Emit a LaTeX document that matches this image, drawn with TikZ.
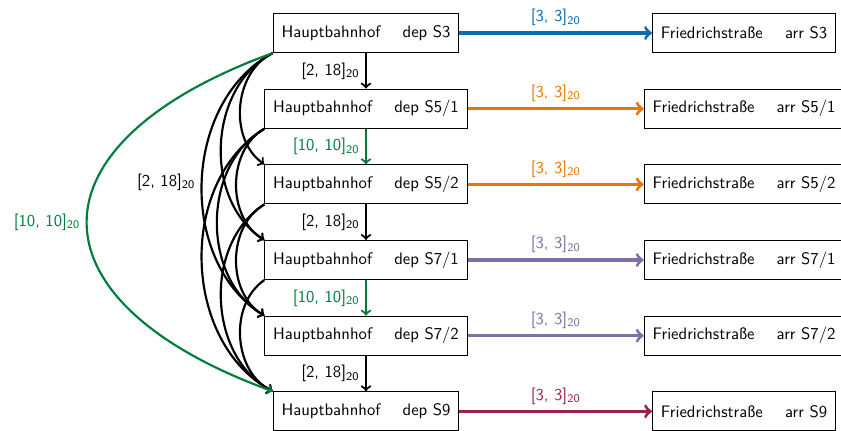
\documentclass[tikz,border=0pt]{standalone}
\usepackage{amsmath}
\usepackage{fontspec}
\renewcommand{\familydefault}{\sfdefault}

\definecolor{sbahnblue}{RGB}{10,108,178}
\definecolor{sbahnorange}{RGB}{236,117,0}
\definecolor{sbahnpurple}{RGB}{128,110,168}
\definecolor{sbahnred}{RGB}{158,34,70}
\definecolor{headway}{RGB}{0,125,60}

\newcommand{\bounds}[2]{[#1, #2]$_{\textsf{20}}$}

\tikzset{
  event/.style={draw,semithick,rectangle,minimum height=23.5pt,inner xsep=5pt},
  trip/.style={line width=1.9pt,->},
  hw/.style={line width=1.3pt,->},
}

\begin{document}
\begin{tikzpicture}
    \useasboundingbox (-219.6pt,19.8pt) rectangle (285pt,-238.2pt);

    % departures
    \node[event] (dep3)  at (0pt,0pt)      {Hauptbahnhof \quad dep S3};
    \node[event] (dep51) at (0pt,-45.4pt)  {Hauptbahnhof \quad dep S5/1};
    \node[event] (dep52) at (0pt,-90.8pt)  {Hauptbahnhof \quad dep S5/2};
    \node[event] (dep71) at (0pt,-136.2pt) {Hauptbahnhof \quad dep S7/1};
    \node[event] (dep72) at (0pt,-181.6pt) {Hauptbahnhof \quad dep S7/2};
    \node[event] (dep9)  at (0pt,-227pt)   {Hauptbahnhof \quad dep S9};

    % arrivals
    \node[event] (arr3)  at (226.8pt,0pt)      {Friedrichstraße \quad arr S3};
    \node[event] (arr51) at (226.8pt,-45.4pt)  {Friedrichstraße \quad arr S5/1};
    \node[event] (arr52) at (226.8pt,-90.8pt)  {Friedrichstraße \quad arr S5/2};
    \node[event] (arr71) at (226.8pt,-136.2pt) {Friedrichstraße \quad arr S7/1};
    \node[event] (arr72) at (226.8pt,-181.6pt) {Friedrichstraße \quad arr S7/2};
    \node[event] (arr9)  at (226.8pt,-227pt)   {Friedrichstraße \quad arr S9};

    % trips
    \draw[trip,sbahnblue]   (dep3)  -- node[above]{\bounds{3}{3}} (arr3);
    \draw[trip,sbahnorange] (dep51) -- node[above]{\bounds{3}{3}} (arr51);
    \draw[trip,sbahnorange] (dep52) -- node[above]{\bounds{3}{3}} (arr52);
    \draw[trip,sbahnpurple] (dep71) -- node[above]{\bounds{3}{3}} (arr71);
    \draw[trip,sbahnpurple] (dep72) -- node[above]{\bounds{3}{3}} (arr72);
    \draw[trip,sbahnred]    (dep9)  -- node[above]{\bounds{3}{3}} (arr9);

    % headways, neighbours
    \draw[hw]         (dep3)  -- node[left]{\bounds{2}{18}} (dep51);
    \draw[hw,headway] (dep51) -- node[left]{\bounds{10}{10}} (dep52);
    \draw[hw]         (dep52) -- node[left]{\bounds{2}{18}} (dep71);
    \draw[hw,headway] (dep71) -- node[left]{\bounds{10}{10}} (dep72);
    \draw[hw]         (dep72) -- node[left]{\bounds{2}{18}} (dep9);

    % headways, further down
    \draw[hw] (dep3.south west) to[bend right=60] (dep52.north west);
    \draw[hw] (dep3.south west) to[bend right=60] (dep71.north west);
    \draw[hw] (dep3.south west) to[bend right=60] node[left]{\bounds{2}{18}} (dep72.north west);
    \draw[hw] (dep51.south west) to[bend right=60] (dep71.north west);
    \draw[hw] (dep51.south west) to[bend right=60] (dep72.north west);
    \draw[hw] (dep51.south west) to[bend right=60] (dep9.north west);
    \draw[hw] (dep52.south west) to[bend right=60] (dep72.north west);
    \draw[hw] (dep52.south west) to[bend right=60] (dep9.north west);
    \draw[hw] (dep71.south west) to[bend right=60] (dep9.north west);
    \draw[hw,headway] (dep3.south west) to[bend right=70,looseness=2] node[left]{\bounds{10}{10}} (dep9.north west);
\end{tikzpicture}
\end{document}
